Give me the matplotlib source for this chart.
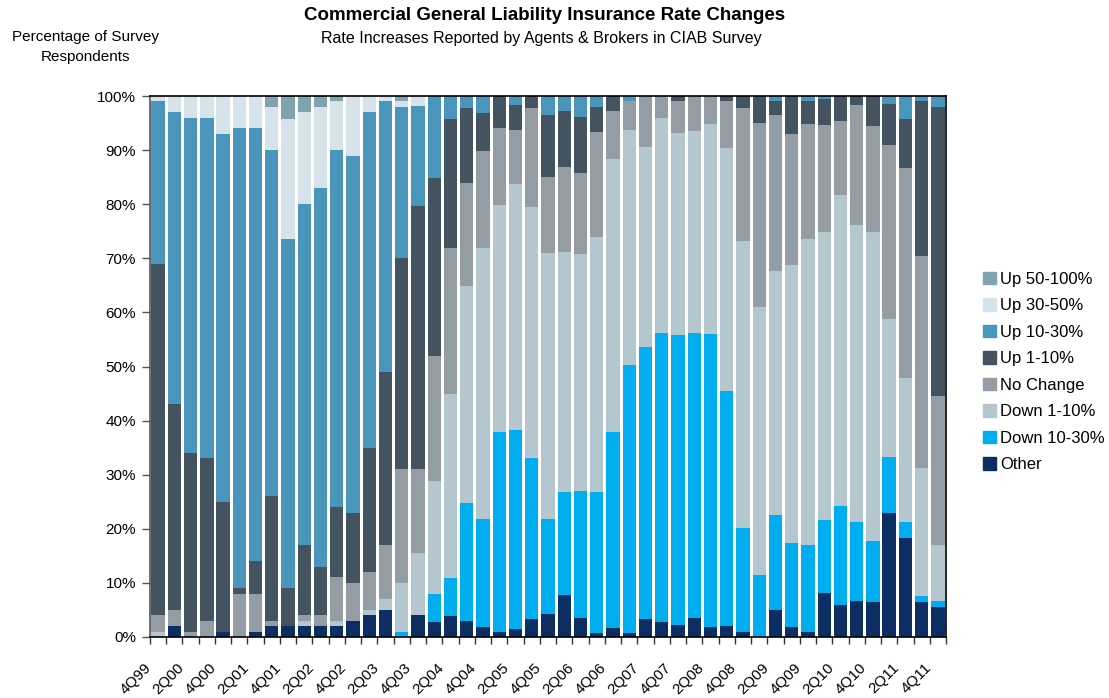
# Commercial General Liability rate changes - CIAB survey, stacked bars

import matplotlib
matplotlib.use("Agg")
import matplotlib.pyplot as plt
import matplotlib.transforms as mtransforms
from matplotlib.patches import Patch
import numpy as np

plt.rcParams['font.family'] = ['Liberation Sans', 'DejaVu Sans']

quarters = ["4Q99",
            "1Q00", "2Q00", "3Q00", "4Q00", "1Q01", "2Q01", "3Q01", "4Q01",
            "1Q02", "2Q02", "3Q02", "4Q02", "1Q03", "2Q03", "3Q03", "4Q03",
            "1Q04", "2Q04", "3Q04", "4Q04", "1Q05", "2Q05", "3Q05", "4Q05",
            "1Q06", "2Q06", "3Q06", "4Q06", "1Q07", "2Q07", "3Q07", "4Q07",
            "1Q08", "2Q08", "3Q08", "4Q08", "1Q09", "2Q09", "3Q09", "4Q09",
            "1Q10", "2Q10", "3Q10", "4Q10", "1Q11", "2Q11", "3Q11", "4Q11"]

# percentages of respondents, bottom series first
other = [0, 2, 0, 0, 1, 0, 1, 2, 2, 2, 2, 2, 3, 4, 5, 0,
         4, 2.7, 3.8, 2.9, 1.8, 0.9, 1.4, 3.3, 4.2, 7.7, 3.6, 0.7, 1.6, 0.7, 3.3, 2.7,
         2.3, 3.5, 1.8, 2.0, 0.9, 0, 4.9, 1.8, 0.9, 8.1, 6.0, 6.6, 6.4, 22.9, 18.3, 6.4, 5.5]
down_10_30 = [0, 0, 0, 0, 0, 0, 0, 0, 0, 0, 0, 0, 0, 0, 0, 1,
              0, 5.2, 7.1, 21.8, 20, 37, 36.8, 29.7, 17.6, 19.1, 23.3, 26.1, 36.3, 49.6, 50.3, 53.5,
              53.6, 52.7, 54.2, 43.4, 19.2, 11.4, 17.6, 15.5, 16.1, 13.5, 18.2, 14.6, 11.3, 10.3, 2.9, 1.1, 1.1]
down_1_10 = [1, 0, 0, 0, 0, 0, 0, 0, 0, 1, 0, 1, 0, 1, 2, 9,
             11.5, 21, 34, 40.2, 50.1, 42, 45.6, 46.5, 49.2, 44.4, 43.9, 47.2, 50.5, 43.5, 37, 39.8,
             37.3, 37.4, 38.9, 45, 53.1, 49.6, 45.2, 51.5, 56.6, 53.3, 57.5, 55, 57.2, 25.6, 26.6, 23.7, 10.4]
no_change = [3, 3, 1, 3, 0, 8, 7, 1, 0, 1, 2, 8, 7, 7, 10, 21,
             15.5, 23.1, 27, 19.1, 18, 14.1, 10, 18.3, 14.1, 15.7, 15, 19.4, 8.9, 5.2, 9.4, 4.0,
             5.8, 6.4, 5.1, 8.7, 24.6, 34.1, 28.7, 24.2, 21.3, 19.8, 13.7, 22.2, 19.6, 32.2, 38.8, 39.3, 27.5]
up_1_10 = [65, 38, 33, 30, 24, 1, 6, 23, 7, 13, 9, 13, 13, 23, 32, 39,
           48.7, 32.9, 23.9, 13.8, 6.9, 6, 4.6, 2.2, 11.3, 10.4, 10.4, 4.6, 2.7, 0, 0, 0,
           1.0, 0, 0, 0.9, 2.2, 4.9, 2.6, 7.0, 4.1, 4.8, 4.6, 1.6, 5.5, 7.6, 9.2, 28.5, 53.5]
up_10_30 = [30, 54, 62, 63, 68, 85, 80, 64, 64.6, 63, 70, 66, 66, 62, 50, 28,
            18.5, 15.1, 4.2, 2.2, 3.2, 0, 1.6, 0, 3.6, 2.7, 3.8, 2.0, 0, 1.0, 0, 0,
            0, 0, 0, 0, 0, 0, 1.0, 0, 1.0, 0.5, 0, 0, 0, 1.4, 4.2, 1.0, 2.0]
up_30_50 = [1, 3, 4, 4, 7, 6, 6, 8, 22.2, 17, 15, 9, 11, 3, 1, 1,
            2, 0, 0, 0, 0, 0, 0, 0, 0, 0, 0, 0, 0, 0, 0, 0,
            0, 0, 0, 0, 0, 0, 0, 0, 0, 0, 0, 0, 0, 0, 0, 0, 0]
up_50_100 = [0, 0, 0, 0, 0, 0, 0, 2, 4.2, 3, 2, 1, 0, 0, 0, 1,
             0, 0, 0, 0, 0, 0, 0, 0, 0, 0, 0, 0, 0, 0, 0, 0,
             0, 0, 0, 0, 0, 0, 0, 0, 0, 0, 0, 0, 0, 0, 0, 0, 0]

series = [other, down_10_30, down_1_10, no_change, up_1_10, up_10_30, up_30_50, up_50_100]
names = ["Other", "Down 10-30%", "Down 1-10%", "No Change",
         "Up 1-10%", "Up 10-30%", "Up 30-50%", "Up 50-100%"]
colors = ["#0c2e63", "#00adef", "#b4c7ce", "#949ca4",
          "#43535f", "#4a95bb", "#d6e3eb", "#80a3b0"]

fig = plt.figure(figsize=(11.09, 6.98), dpi=100)
ax = fig.add_axes([150 / 1109, 61 / 698, 796 / 1109, 541 / 698])

x = np.arange(len(quarters))
bottom = np.zeros(len(quarters))
for vals, name, col in zip(series, names, colors):
    v = np.array(vals, dtype=float)
    ax.bar(x, v, bottom=bottom, width=0.82, color=col, label=name, linewidth=0)
    bottom += v

ax.set_xlim(-0.5, len(quarters) - 0.5)
ax.set_ylim(0, 100)
ax.set_yticks(np.arange(0, 101, 10))
ax.set_yticklabels([f"{v}%" for v in range(0, 101, 10)], fontsize=11)
ax.tick_params(axis='y', length=6, width=1, color='#555555', pad=4)

ax.set_xticks(x[::2])
ax.set_xticklabels(quarters[::2], rotation=45, ha='right', va='top', fontsize=11)
ax.set_xticks(np.arange(-0.5, len(quarters), 1), minor=True)
ax.tick_params(axis='x', which='major', length=0, pad=17)
ax.tick_params(axis='x', which='minor', length=5, width=1, color='#333333')
shift = mtransforms.ScaledTranslation(-4 / 100, 0, fig.dpi_scale_trans)
for lab in ax.get_xticklabels():
    lab.set_transform(lab.get_transform() + shift)

for s in ax.spines.values():
    s.set_color('black')
    s.set_linewidth(1.2)
ax.spines['left'].set_color('#555555')

fig.text(545 / 1109, 1 - 15 / 698, "Commercial General Liability Insurance Rate Changes",
         ha='center', va='center', fontsize=13.5, fontweight='bold')
fig.text(541 / 1109, 1 - 38 / 698, "Rate Increases Reported by Agents & Brokers in CIAB Survey",
         ha='center', va='center', fontsize=11.5)
fig.text(85 / 1109, 1 - 47 / 698, "Percentage of Survey\nRespondents",
         ha='center', va='center', fontsize=11, linespacing=1.6)

handles = [Patch(color=c) for c in colors[::-1]]
fig.legend(handles, names[::-1], loc='center left', bbox_to_anchor=(968 / 1109, 1 - 372 / 698),
           frameon=False, fontsize=12, handlelength=0.75, handleheight=0.75,
           handletextpad=0.3, labelspacing=0.69)

plt.savefig("out.png", dpi=100)
